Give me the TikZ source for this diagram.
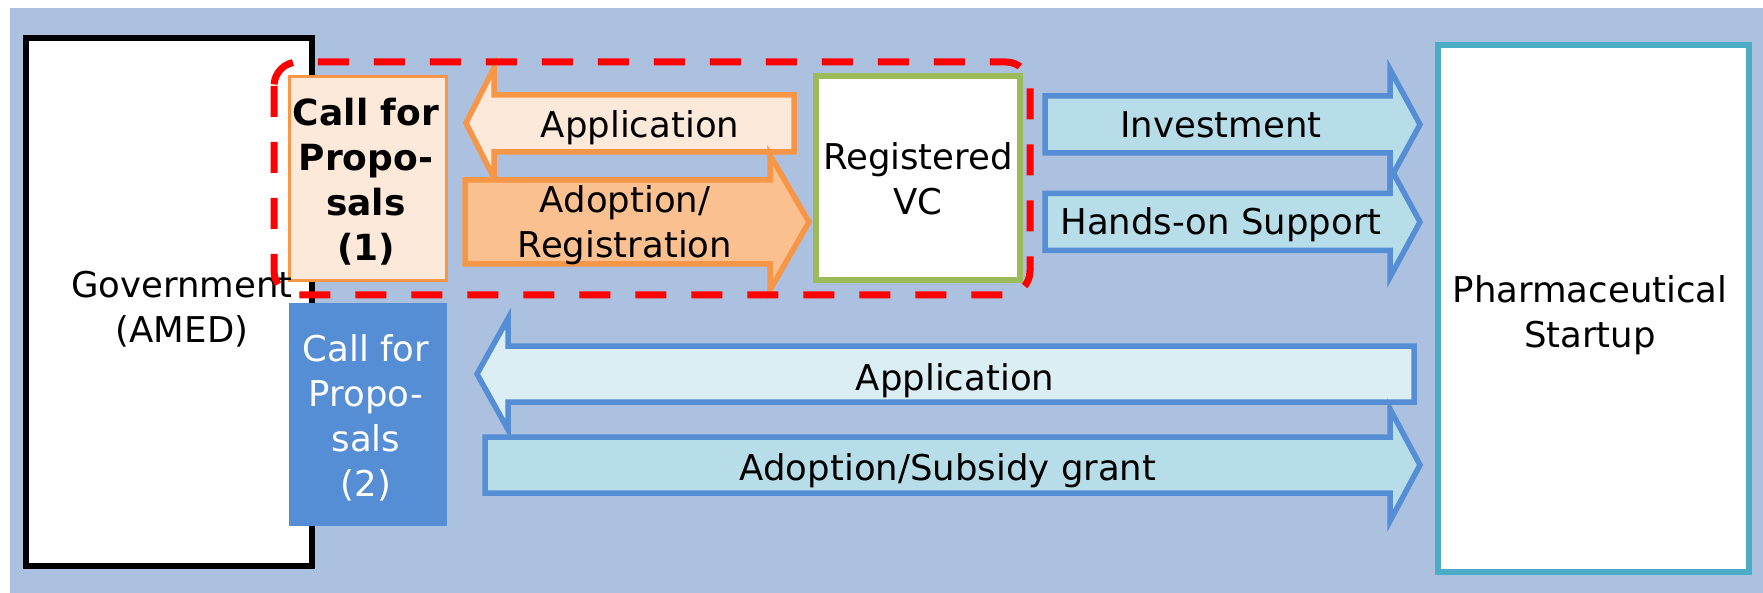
\documentclass[tikz,border=0pt]{standalone}
\usepackage{fontspec}
\setmainfont{DejaVu Sans}
\definecolor{bgblue}{RGB}{172,193,224}
\definecolor{orangeline}{RGB}{247,150,70}
\definecolor{peachlight}{RGB}{253,233,217}
\definecolor{peachmid}{RGB}{250,192,144}
\definecolor{greenline}{RGB}{155,187,89}
\definecolor{blueline}{RGB}{85,142,213}
\definecolor{aqualight}{RGB}{183,222,232}
\definecolor{aquapale}{RGB}{218,238,243}
\definecolor{tealline}{RGB}{75,172,198}
\begin{document}
\begin{tikzpicture}[x=1pt,y=-1pt,
  lbl/.style={font=\fontsize{35.5}{45}\selectfont, inner sep=0pt, align=center, text=black},
  blbl/.style={font=\fontsize{36}{45}\selectfont\bfseries, inner sep=0pt, align=center, text=black},
  boxshape/.style={rectangle, inner sep=0pt, outer sep=0pt},
  oarrow/.style={draw=orangeline, line width=5.5pt},
  barrow/.style={draw=blueline, line width=5.5pt},
  reddash/.style={draw=red, line width=7pt, dash pattern=on 31pt off 25pt, rounded corners=24pt}]
\useasboundingbox (0,0) rectangle (1763,593);
\fill[bgblue] (10,8) rectangle (1763,593);

% main boxes
\node[boxshape, draw=black, line width=6pt, fill=white, minimum width=286pt, minimum height=528pt] (gov) at (169,302) {};
\node[boxshape, draw=tealline, line width=6pt, fill=white, minimum width=311pt, minimum height=527pt] (pharma) at (1593.5,308.5) {};

% orange block arrows
\draw[oarrow, fill=peachlight] (466,123) -- (494,68) -- (494,95) -- (794,95) -- (794,152) -- (494,152) -- (494,178) -- cycle;
\draw[oarrow, fill=peachmid] (465,180) -- (770,180) -- (770,155) -- (809,222) -- (770,290) -- (770,264) -- (465,264) -- cycle;

% blue block arrows
\draw[barrow, fill=aqualight] (1045,96) -- (1390,96) -- (1390,69.5) -- (1420,124.5) -- (1390,179.5) -- (1390,153) -- (1045,153) -- cycle;
\draw[barrow, fill=aqualight] (1045,193.5) -- (1390,193.5) -- (1390,167) -- (1420,222) -- (1390,277) -- (1390,250.5) -- (1045,250.5) -- cycle;
\draw[barrow, fill=aquapale] (477,374) -- (508,318.5) -- (508,346) -- (1414,346) -- (1414,402) -- (508,402) -- (508,429.5) -- cycle;
\draw[barrow, fill=aqualight] (485,437) -- (1390,437) -- (1390,409) -- (1420,465) -- (1390,521) -- (1390,493) -- (485,493) -- cycle;

% call for proposals boxes and VC
\node[boxshape, draw=orangeline, line width=2.5pt, fill=peachlight, minimum width=157pt, minimum height=204pt] (cfp1) at (368,178.5) {};
\node[boxshape, fill=blueline, minimum width=158pt, minimum height=223pt] (cfp2) at (368,414.5) {};
\node[boxshape, draw=greenline, line width=6pt, fill=white, minimum width=204pt, minimum height=204pt] (vc) at (918,178) {};

% texts
\node[lbl] (govtext) at (182,309) {Government\\(AMED)};
\node[lbl] (pharmatext) at (1590,315) {Pharmaceutical\\Startup};
\node[blbl] (cfp1text) at (366,182) {Call for\\Propo-\\sals\\(1)};
\node[lbl, text=white] (cfp2text) at (366,418) {Call for\\Propo-\\sals\\(2)};
\node[lbl] (vctext) at (918,179) {Registered\\VC};
\node[lbl, anchor=base] (apptop) at (640,138) {Application};
\node[lbl] (adoptreg) at (625,225) {Adoption/\\Registration};
\node[lbl, anchor=base] (invest) at (1221,138) {Investment};
\node[lbl, anchor=base] (handson) at (1221,235) {Hands-on Support};
\node[lbl, anchor=base] (appbot) at (955,390) {Application};
\node[lbl, anchor=base] (adoptsub) at (948,480) {Adoption/Subsidy grant};

% red dashed group
\draw[reddash] (274,62) rectangle (1030,295);
\end{tikzpicture}
\end{document}
